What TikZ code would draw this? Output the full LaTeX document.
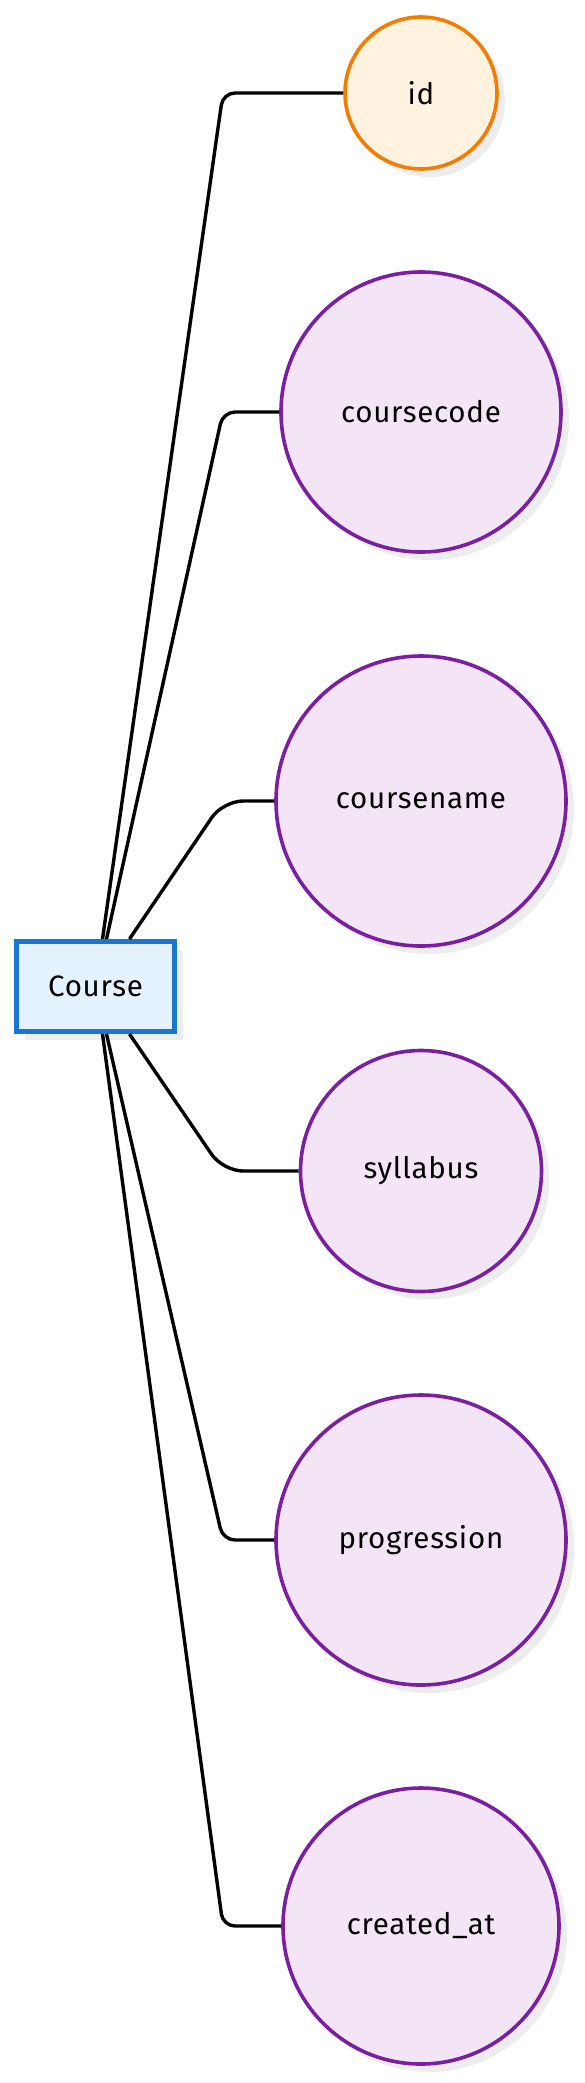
\documentclass[tikz,border=0pt]{standalone}
\usepackage{fontspec}
\setmainfont[LetterSpace=2.5]{Fira Sans}
\usetikzlibrary{shadows,calc}
\definecolor{entline}{HTML}{1976D2}
\definecolor{entfill}{HTML}{E3F2FD}
\definecolor{keyline}{HTML}{F57C00}
\definecolor{keyfill}{HTML}{FFF3E0}
\definecolor{attline}{HTML}{7B1FA2}
\definecolor{attfill}{HTML}{F3E5F5}
\definecolor{shade}{HTML}{EDEDED}
\tikzstyle{shade} = [drop shadow={shadow xshift=8pt, shadow yshift=-8pt, fill=shade, opacity=1}]
\tikzstyle{entity} = [draw=entline, fill=entfill, line width=5pt, minimum width=158pt, minimum height=90pt, inner sep=0pt, font=\fontsize{29.5}{34}\selectfont, shade]
\tikzstyle{attr} = [circle, draw=attline, fill=attfill, line width=3.6pt, inner sep=0pt, font=\fontsize{29.5}{34}\selectfont, shade]
\tikzstyle{key} = [attr, draw=keyline, fill=keyfill]
\tikzstyle{edge} = [draw, line width=3.4pt]

\begin{document}
\begin{tikzpicture}[x=1pt, y=-1pt]
    \useasboundingbox (0,0) rectangle (585,2083);
    \node[entity] (course) at (95.5,986.5) {Course};
    \node[key, minimum size=152pt] (id) at (421,93) {id};
    \node[attr, minimum size=280pt] (code) at (421,412) {coursecode};
    \node[attr, minimum size=290pt] (name) at (421,801) {coursename};
    \node[attr, minimum size=241pt] (syl) at (421,1171) {syllabus};
    \node[attr, minimum size=290pt] (prog) at (421,1540) {progression};
    \node[attr, minimum size=276pt] (created) at (421,1926) {created\_at};
    \coordinate (cx) at (223,0);
    % top half
    \draw[edge, rounded corners=12pt] ([xshift=7pt]course.north) -- (id.west -| cx) -- (id.west);
    \draw[edge, rounded corners=12pt] ([xshift=11pt]course.north) -- (code.west -| cx) -- (code.west);
    \draw[edge, rounded corners=20pt] ([xshift=34pt]course.north) -- (name.west -| cx) -- (name.west);
    % bottom half
    \draw[edge, rounded corners=20pt] ([xshift=34pt]course.south) -- (syl.west -| cx) -- (syl.west);
    \draw[edge, rounded corners=12pt] ([xshift=11pt]course.south) -- (prog.west -| cx) -- (prog.west);
    \draw[edge, rounded corners=12pt] ([xshift=7pt]course.south) -- (created.west -| cx) -- (created.west);
\end{tikzpicture}
\end{document}
